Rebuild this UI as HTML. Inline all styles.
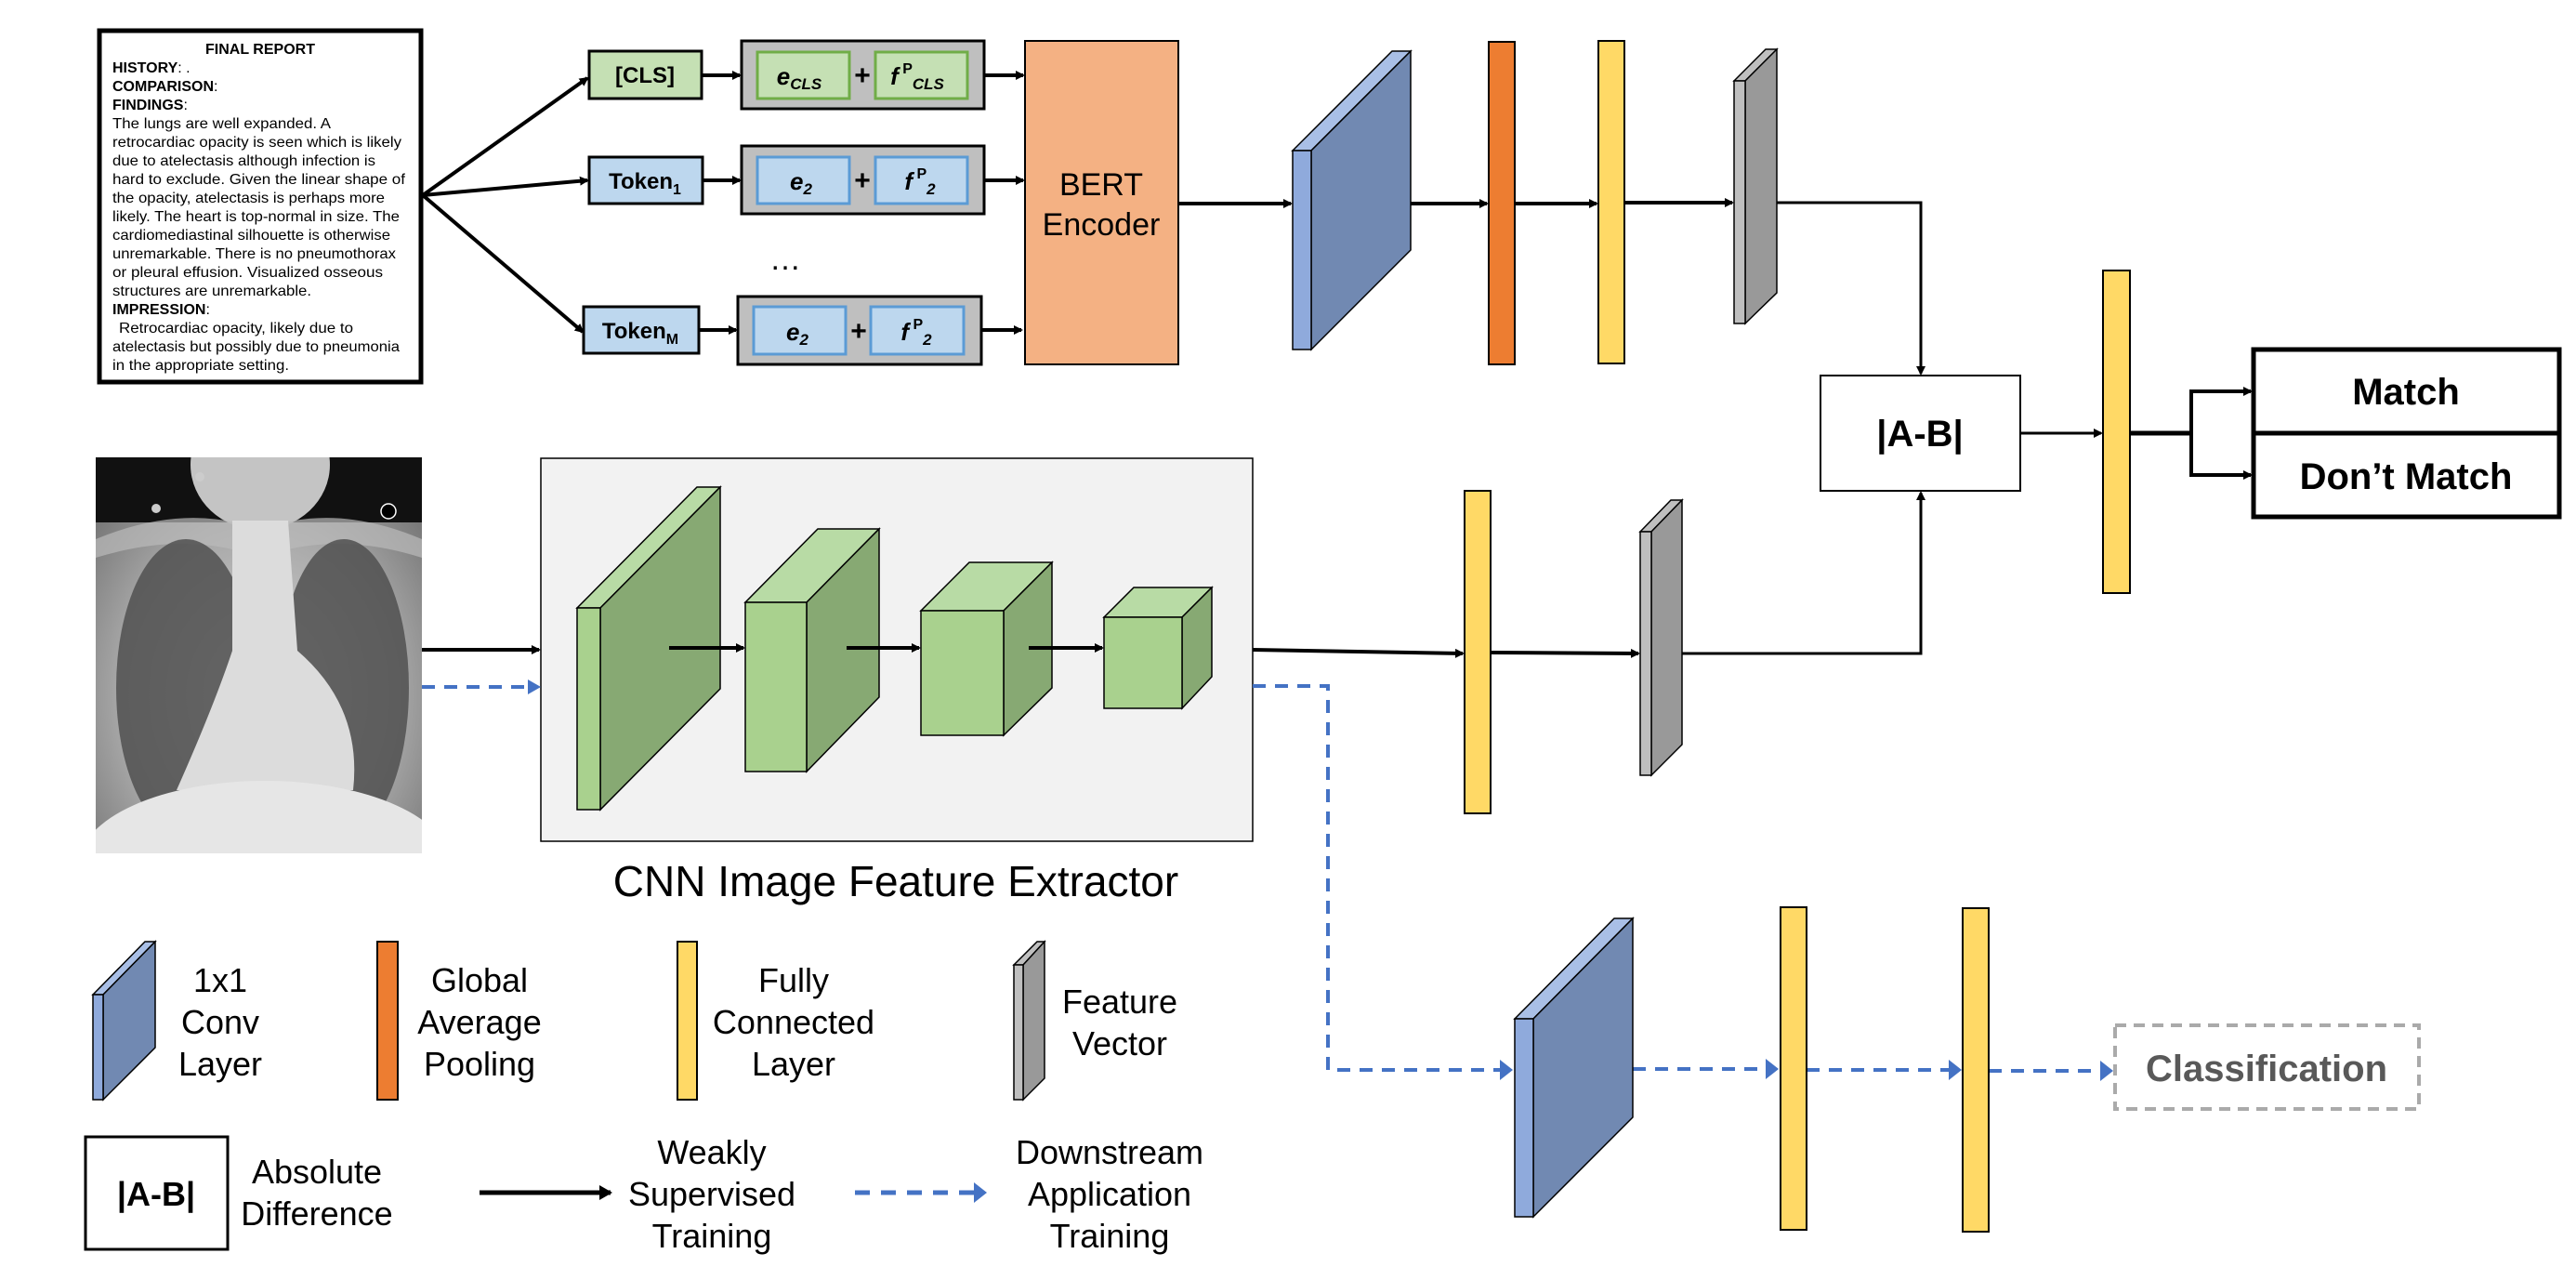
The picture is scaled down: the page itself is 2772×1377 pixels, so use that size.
<!DOCTYPE html>
<html><head><meta charset="utf-8"><style>
html,body{margin:0;padding:0;background:#fff;}
svg{display:block;}
text{font-family:"Liberation Sans",sans-serif;}
</style></head><body>
<svg width="2772" height="1377" viewBox="0 0 2772 1377" xmlns="http://www.w3.org/2000/svg">
<defs>
<marker id="ah" markerWidth="10" markerHeight="10" refX="8" refY="5" orient="auto" markerUnits="userSpaceOnUse"><path d="M0,0 L10,5 L0,10 z" fill="#000"/></marker>
<marker id="ahs" markerWidth="14" markerHeight="16" refX="12" refY="8" orient="auto" markerUnits="userSpaceOnUse"><path d="M0,0 L14,8 L0,16 z" fill="#000"/></marker>
<radialGradient id="xb" cx="0.5" cy="0.6" r="0.7"><stop offset="0" stop-color="#d8d8d8"/><stop offset="0.6" stop-color="#a8a8a8"/><stop offset="1" stop-color="#707070"/></radialGradient>
<clipPath id="xc"><rect x="103" y="492" width="351" height="426"/></clipPath>
</defs>

<!-- Report -->
<rect x="107" y="33" width="346" height="378" fill="#fff" stroke="#000" stroke-width="5"/>
<g font-size="16" fill="#000">
<text x="280" y="58" text-anchor="middle" font-weight="bold">FINAL REPORT</text>
<text x="121" y="78"><tspan font-weight="bold">HISTORY</tspan>: .</text>
<text x="121" y="98"><tspan font-weight="bold">COMPARISON</tspan>:</text>
<text x="121" y="118"><tspan font-weight="bold">FINDINGS</tspan>:</text>
<text x="121" y="138" textLength="235" lengthAdjust="spacingAndGlyphs">The lungs are well expanded.  A</text>
<text x="121" y="158" textLength="311" lengthAdjust="spacingAndGlyphs">retrocardiac opacity is seen which is likely</text>
<text x="121" y="178" textLength="283" lengthAdjust="spacingAndGlyphs">due to atelectasis although infection is</text>
<text x="121" y="198" textLength="315" lengthAdjust="spacingAndGlyphs">hard to exclude.  Given the linear shape of</text>
<text x="121" y="218" textLength="293" lengthAdjust="spacingAndGlyphs">the opacity, atelectasis is perhaps  more</text>
<text x="121" y="238" textLength="309" lengthAdjust="spacingAndGlyphs">likely. The heart is top-normal in size. The</text>
<text x="121" y="258" textLength="299" lengthAdjust="spacingAndGlyphs">cardiomediastinal silhouette is otherwise</text>
<text x="121" y="278" textLength="305" lengthAdjust="spacingAndGlyphs">unremarkable. There is no pneumothorax</text>
<text x="121" y="298" textLength="291" lengthAdjust="spacingAndGlyphs">or pleural effusion.  Visualized osseous</text>
<text x="121" y="318" textLength="214" lengthAdjust="spacingAndGlyphs">structures are unremarkable.</text>
<text x="121" y="338"><tspan font-weight="bold">IMPRESSION</tspan>:</text>
<text x="128" y="358" textLength="252" lengthAdjust="spacingAndGlyphs">Retrocardiac opacity, likely due to</text>
<text x="121" y="378" textLength="309" lengthAdjust="spacingAndGlyphs">atelectasis but possibly due to pneumonia</text>
<text x="121" y="398" textLength="190" lengthAdjust="spacingAndGlyphs">in the appropriate setting.</text>
</g>

<!-- fan arrows -->
<g stroke="#000" stroke-width="4" fill="none" marker-end="url(#ah)">
<line x1="455" y1="210" x2="632" y2="84"/>
<line x1="455" y1="210" x2="632" y2="194"/>
<line x1="455" y1="210" x2="627" y2="357"/>
</g>

<!-- tokens -->
<rect x="634" y="55" width="121" height="51" fill="#c5e0b4" stroke="#000" stroke-width="3"/>
<text x="694" y="89" font-size="24" font-weight="bold" text-anchor="middle">[CLS]</text>
<rect x="634" y="169" width="122" height="50" fill="#bdd7ee" stroke="#000" stroke-width="3"/>
<text x="694" y="203" font-size="24" font-weight="bold" text-anchor="middle">Token<tspan font-size="16" dy="6">1</tspan></text>
<rect x="628" y="330" width="124" height="50" fill="#bdd7ee" stroke="#000" stroke-width="3"/>
<text x="689" y="364" font-size="24" font-weight="bold" text-anchor="middle">Token<tspan font-size="16" dy="6">M</tspan></text>

<g stroke="#000" stroke-width="4" marker-end="url(#ah)">
<line x1="756" y1="81" x2="796" y2="81"/>
<line x1="756" y1="194" x2="796" y2="194"/>
<line x1="752" y1="355" x2="792" y2="355"/>
<line x1="1059" y1="81" x2="1101" y2="81"/>
<line x1="1059" y1="194" x2="1101" y2="194"/>
<line x1="1056" y1="355" x2="1099" y2="355"/>
</g>

<!-- embedding groups -->
<rect x="798" y="44" width="261" height="73" fill="#bfbfbf" stroke="#000" stroke-width="3"/>
<rect x="815" y="56" width="99" height="50" fill="#c5e0b4" stroke="#70ad47" stroke-width="3"/>
<rect x="942" y="56" width="99" height="50" fill="#c5e0b4" stroke="#70ad47" stroke-width="3"/>
<text x="860" y="91" font-size="26" font-weight="bold" font-style="italic" text-anchor="middle">e<tspan font-size="17" dy="5">CLS</tspan></text>
<text x="928" y="91" font-size="30" font-weight="bold" text-anchor="middle">+</text>
<text x="987" y="91" font-size="26" font-weight="bold" font-style="italic" text-anchor="middle">f<tspan font-size="16" dy="-12" font-style="normal"> P</tspan><tspan font-size="17" dy="17">CLS</tspan></text>

<rect x="798" y="157" width="261" height="73" fill="#bfbfbf" stroke="#000" stroke-width="3"/>
<rect x="815" y="169" width="99" height="50" fill="#bdd7ee" stroke="#5b9bd5" stroke-width="3"/>
<rect x="942" y="169" width="99" height="50" fill="#bdd7ee" stroke="#5b9bd5" stroke-width="3"/>
<text x="862" y="204" font-size="26" font-weight="bold" font-style="italic" text-anchor="middle">e<tspan font-size="17" dy="5">2</tspan></text>
<text x="928" y="204" font-size="30" font-weight="bold" text-anchor="middle">+</text>
<text x="990" y="204" font-size="26" font-weight="bold" font-style="italic" text-anchor="middle">f<tspan font-size="16" dy="-12" font-style="normal"> P</tspan><tspan font-size="17" dy="17">2</tspan></text>

<text x="845" y="290" font-size="34" text-anchor="middle">…</text>

<rect x="794" y="319" width="262" height="73" fill="#bfbfbf" stroke="#000" stroke-width="3"/>
<rect x="811" y="330" width="99" height="51" fill="#bdd7ee" stroke="#5b9bd5" stroke-width="3"/>
<rect x="937" y="330" width="100" height="51" fill="#bdd7ee" stroke="#5b9bd5" stroke-width="3"/>
<text x="858" y="366" font-size="26" font-weight="bold" font-style="italic" text-anchor="middle">e<tspan font-size="17" dy="5">2</tspan></text>
<text x="924" y="366" font-size="30" font-weight="bold" text-anchor="middle">+</text>
<text x="986" y="366" font-size="26" font-weight="bold" font-style="italic" text-anchor="middle">f<tspan font-size="16" dy="-12" font-style="normal"> P</tspan><tspan font-size="17" dy="17">2</tspan></text>

<!-- BERT -->
<rect x="1103" y="44" width="165" height="348" fill="#f4b183" stroke="#000" stroke-width="2"/>
<text x="1185" y="210" font-size="34" text-anchor="middle">BERT</text>
<text x="1185" y="253" font-size="34" text-anchor="middle">Encoder</text>

<!-- top row -->
<g stroke="#000" stroke-width="4" marker-end="url(#ah)">
<line x1="1268" y1="219" x2="1389" y2="219"/>
<line x1="1518" y1="219" x2="1600" y2="219"/>
<line x1="1630" y1="219" x2="1718" y2="219"/>
<line x1="1748" y1="218" x2="1864" y2="218"/>
</g>
<polygon points="1391,162 1498,55 1518,55 1411,162" fill="#a9bfe6" stroke="#000" stroke-width="1.5"/>
<polygon points="1411,162 1518,55 1518,269 1411,376" fill="#7189b2" stroke="#000" stroke-width="1.5"/>
<rect x="1391" y="162" width="20" height="214" fill="#8faadc" stroke="#000" stroke-width="1.5"/>
<rect x="1602" y="45" width="28" height="347" fill="#ed7d31" stroke="#000" stroke-width="2"/>
<rect x="1720" y="44" width="28" height="347" fill="#ffd966" stroke="#000" stroke-width="2"/>
<polygon points="1866,87 1900,53 1912,53 1878,87" fill="#bfbfbf" stroke="#000" stroke-width="1.5"/>
<polygon points="1878,87 1912,53 1912,315 1878,348" fill="#999" stroke="#000" stroke-width="1.5"/>
<rect x="1866" y="87" width="12" height="261" fill="#bfbfbf" stroke="#000" stroke-width="1.5"/>

<polyline points="1912,218 2067,218 2067,402" fill="none" stroke="#000" stroke-width="3" marker-end="url(#ah)"/>
<rect x="1959" y="404" width="215" height="124" fill="#fff" stroke="#000" stroke-width="2"/>
<text x="2066" y="480" font-size="40" font-weight="bold" text-anchor="middle">|A-B|</text>
<line x1="2174" y1="466" x2="2261" y2="466" stroke="#000" stroke-width="3" marker-end="url(#ah)"/>
<rect x="2263" y="291" width="29" height="347" fill="#ffd966" stroke="#000" stroke-width="2"/>
<line x1="2292" y1="466" x2="2358" y2="466" stroke="#000" stroke-width="5"/>
<polyline points="2421,421 2358,421 2358,511 2421,511" fill="none" stroke="#000" stroke-width="4"/>
<line x1="2400" y1="421" x2="2422" y2="421" stroke="#000" stroke-width="4" marker-end="url(#ah)"/>
<line x1="2400" y1="511" x2="2422" y2="511" stroke="#000" stroke-width="4" marker-end="url(#ah)"/>
<rect x="2425" y="376" width="329" height="180" fill="#fff" stroke="#000" stroke-width="5"/>
<line x1="2425" y1="466" x2="2754" y2="466" stroke="#000" stroke-width="5"/>
<text x="2589" y="435" font-size="40" font-weight="bold" text-anchor="middle">Match</text>
<text x="2589" y="526" font-size="40" font-weight="bold" text-anchor="middle">Don’t Match</text>

<!-- X-ray -->
<g clip-path="url(#xc)">
<rect x="103" y="492" width="351" height="426" fill="url(#xb)"/>
<rect x="103" y="492" width="351" height="70" fill="#111"/>
<ellipse cx="280" cy="500" rx="75" ry="70" fill="#c4c4c4"/>
<path d="M103,580 Q200,540 280,570 Q360,540 454,580 L454,600 Q360,570 280,600 Q200,570 103,600 z" fill="#bbb" opacity="0.7"/>
<ellipse cx="200" cy="740" rx="75" ry="160" fill="#505050" opacity="0.85"/>
<ellipse cx="370" cy="740" rx="70" ry="160" fill="#505050" opacity="0.85"/>
<path d="M250,560 L310,560 L320,700 Q390,760 380,850 L190,850 Q230,760 250,700 z" fill="#dcdcdc"/>
<ellipse cx="285" cy="930" rx="200" ry="90" fill="#e6e6e6"/>
<circle cx="418" cy="550" r="8" fill="#000" stroke="#fff" stroke-width="1.5"/>
<circle cx="168" cy="547" r="5" fill="#ccc"/>
<circle cx="215" cy="513" r="5" fill="#ccc"/>
</g>

<!-- CNN box -->
<rect x="582" y="493" width="766" height="412" fill="#f2f2f2" stroke="#000" stroke-width="1.5"/>
<line x1="454" y1="699" x2="580" y2="699" stroke="#000" stroke-width="4" marker-end="url(#ah)"/>
<line x1="454" y1="739" x2="568" y2="739" stroke="#4472c4" stroke-width="4" stroke-dasharray="14,10"/>
<path d="M568,731 L582,739 L568,747 z" fill="#4472c4"/>
<polygon points="621,654 750,524 775,524 646,654" fill="#b8dba5" stroke="#000" stroke-width="1.5"/>
<polygon points="646,654 775,524 775,741 646,871" fill="#87a973" stroke="#000" stroke-width="1.5"/>
<rect x="621" y="654" width="25" height="217" fill="#a9d18e" stroke="#000" stroke-width="1.5"/>
<polygon points="802,648 880,569 946,569 868,648" fill="#b8dba5" stroke="#000" stroke-width="1.5"/>
<polygon points="868,648 946,569 946,750 868,830" fill="#87a973" stroke="#000" stroke-width="1.5"/>
<rect x="802" y="648" width="66" height="182" fill="#a9d18e" stroke="#000" stroke-width="1.5"/>
<polygon points="991,657 1043,605 1132,605 1080,657" fill="#b8dba5" stroke="#000" stroke-width="1.5"/>
<polygon points="1080,657 1132,605 1132,740 1080,791" fill="#87a973" stroke="#000" stroke-width="1.5"/>
<rect x="991" y="657" width="89" height="134" fill="#a9d18e" stroke="#000" stroke-width="1.5"/>
<polygon points="1188,664 1220,632 1304,632 1272,664" fill="#b8dba5" stroke="#000" stroke-width="1.5"/>
<polygon points="1272,664 1304,632 1304,728 1272,762" fill="#87a973" stroke="#000" stroke-width="1.5"/>
<rect x="1188" y="664" width="84" height="98" fill="#a9d18e" stroke="#000" stroke-width="1.5"/>
<g stroke="#000" stroke-width="4" marker-end="url(#ah)">
<line x1="720" y1="697" x2="800" y2="697"/>
<line x1="911" y1="697" x2="989" y2="697"/>
<line x1="1107" y1="697" x2="1186" y2="697"/>
</g>
<text x="964" y="964" font-size="46" text-anchor="middle">CNN Image Feature Extractor</text>

<!-- middle row -->
<g stroke="#000" stroke-width="4" marker-end="url(#ah)">
<line x1="1348" y1="699" x2="1574" y2="703"/>
<line x1="1604" y1="702" x2="1763" y2="703"/>
</g>
<rect x="1576" y="528" width="28" height="347" fill="#ffd966" stroke="#000" stroke-width="2"/>
<polygon points="1765,572 1798,538 1810,538 1777,572" fill="#bfbfbf" stroke="#000" stroke-width="1.5"/>
<polygon points="1777,572 1810,538 1810,801 1777,834" fill="#999" stroke="#000" stroke-width="1.5"/>
<rect x="1765" y="572" width="12" height="262" fill="#bfbfbf" stroke="#000" stroke-width="1.5"/>
<polyline points="1810,703 2067,703 2067,530" fill="none" stroke="#000" stroke-width="3" marker-end="url(#ah)"/>

<!-- dashed downstream -->
<polyline points="1348,738 1429,738 1429,1151 1615,1151" fill="none" stroke="#4472c4" stroke-width="4" stroke-dasharray="14,10"/>
<path d="M1614,1140 L1628,1151 L1614,1162 z" fill="#4472c4"/>
<line x1="1757" y1="1150" x2="1900" y2="1150" stroke="#4472c4" stroke-width="4" stroke-dasharray="14,10"/>
<path d="M1900,1139 L1914,1150 L1900,1161 z" fill="#4472c4"/>
<line x1="1944" y1="1151" x2="2098" y2="1151" stroke="#4472c4" stroke-width="4" stroke-dasharray="14,10"/>
<path d="M2097,1140 L2111,1151 L2097,1162 z" fill="#4472c4"/>
<line x1="2140" y1="1152" x2="2260" y2="1152" stroke="#4472c4" stroke-width="4" stroke-dasharray="14,10"/>
<path d="M2260,1141 L2274,1152 L2260,1163 z" fill="#4472c4"/>
<polygon points="1630,1096 1737,988 1757,988 1650,1096" fill="#a9bfe6" stroke="#000" stroke-width="1.5"/>
<polygon points="1650,1096 1757,988 1757,1202 1650,1309" fill="#7189b2" stroke="#000" stroke-width="1.5"/>
<rect x="1630" y="1096" width="20" height="213" fill="#8faadc" stroke="#000" stroke-width="1.5"/>
<rect x="1916" y="976" width="28" height="347" fill="#ffd966" stroke="#000" stroke-width="2"/>
<rect x="2112" y="977" width="28" height="348" fill="#ffd966" stroke="#000" stroke-width="2"/>
<rect x="2276" y="1103" width="327" height="90" fill="#fff" stroke="#aaa" stroke-width="4" stroke-dasharray="12,8"/>
<text x="2439" y="1163" font-size="40" font-weight="bold" fill="#595959" text-anchor="middle">Classification</text>

<!-- legend -->
<polygon points="100,1070 156,1013 167,1013 111,1070" fill="#a9bfe6" stroke="#000" stroke-width="1.5"/>
<polygon points="111,1070 167,1013 167,1127 111,1183" fill="#7189b2" stroke="#000" stroke-width="1.5"/>
<rect x="100" y="1070" width="11" height="113" fill="#8faadc" stroke="#000" stroke-width="1.5"/>
<g font-size="36" text-anchor="middle">
<text x="237" y="1067">1x1</text><text x="237" y="1112">Conv</text><text x="237" y="1157">Layer</text>
<text x="516" y="1067">Global</text><text x="516" y="1112">Average</text><text x="516" y="1157">Pooling</text>
<text x="854" y="1067">Fully</text><text x="854" y="1112">Connected</text><text x="854" y="1157">Layer</text>
<text x="1205" y="1090">Feature</text><text x="1205" y="1135">Vector</text>
<text x="341" y="1273">Absolute</text><text x="341" y="1318">Difference</text>
<text x="766" y="1252">Weakly</text><text x="766" y="1297">Supervised</text><text x="766" y="1342">Training</text>
<text x="1194" y="1252">Downstream</text><text x="1194" y="1297">Application</text><text x="1194" y="1342">Training</text>
</g>
<rect x="406" y="1013" width="22" height="170" fill="#ed7d31" stroke="#000" stroke-width="2"/>
<rect x="729" y="1013" width="21" height="170" fill="#ffd966" stroke="#000" stroke-width="2"/>
<polygon points="1091,1038 1116,1013 1124,1013 1101,1038" fill="#bfbfbf" stroke="#000" stroke-width="1.5"/>
<polygon points="1101,1038 1124,1013 1124,1160 1101,1183" fill="#999" stroke="#000" stroke-width="1.5"/>
<rect x="1091" y="1038" width="10" height="145" fill="#bfbfbf" stroke="#000" stroke-width="1.5"/>
<rect x="92" y="1223" width="153" height="121" fill="#fff" stroke="#000" stroke-width="3"/>
<text x="168" y="1297" font-size="36" font-weight="bold" text-anchor="middle">|A-B|</text>
<line x1="516" y1="1283" x2="657" y2="1283" stroke="#000" stroke-width="5" marker-end="url(#ahs)"/>
<line x1="920" y1="1283" x2="1050" y2="1283" stroke="#4472c4" stroke-width="5" stroke-dasharray="16,12"/>
<path d="M1048,1272 L1062,1283 L1048,1294 z" fill="#4472c4"/>
</svg>
</body></html>
